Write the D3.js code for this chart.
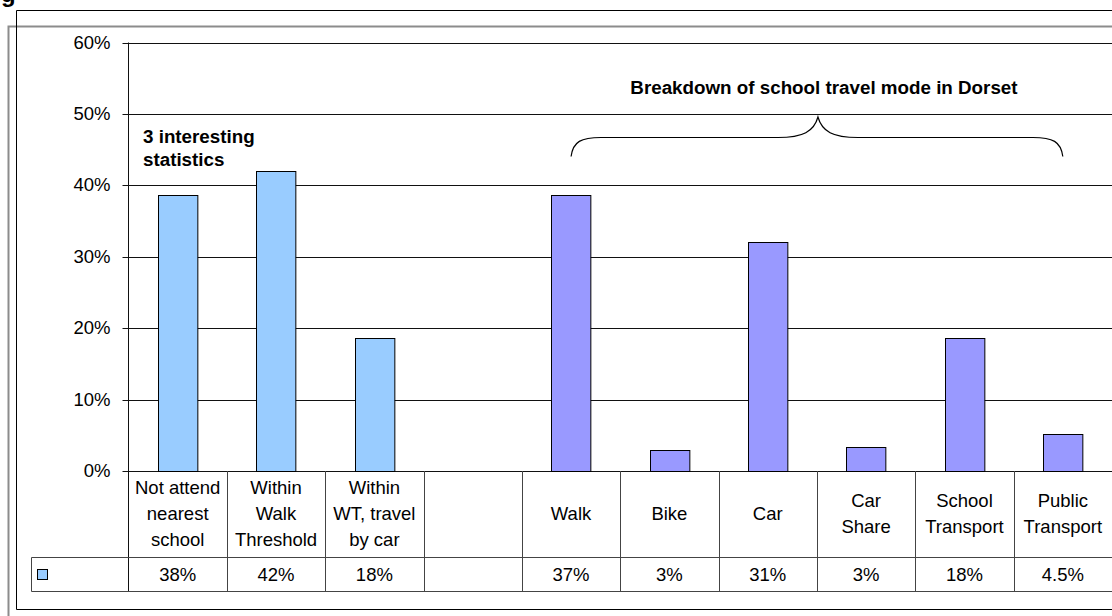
<!DOCTYPE html>
<html>
<head>
<meta charset="utf-8">
<script src="https://cdn.jsdelivr.net/npm/d3@7"></script>
<style>
  body { margin: 0; background: #fff; }
  svg { display: block; font-family: Arial, "Liberation Sans", sans-serif; }
</style>
</head>
<body>
<div id="chart"></div>
<script>
// categories as they appear in the data table (one entry per line of text)
var categories = [
    ["Not attend", "nearest", "school"],
    ["Within", "Walk", "Threshold"],
    ["Within", "WT, travel", "by car"],
    [],
    ["Walk"],
    ["Bike"],
    ["Car"],
    ["Car", "Share"],
    ["School", "Transport"],
    ["Public", "Transport"]
];
// bar heights (percent)
var values = [38.6, 42.0, 18.6, null, 38.6, 3.0, 32.0, 3.4, 18.6, 5.2];
// values printed in the data table row
var tableLabels = ["38%", "42%", "18%", "", "37%", "3%", "31%", "3%", "18%", "4.5%"];
// which group each category belongs to
var groups = ["stats", "stats", "stats", "none", "mode", "mode", "mode", "mode", "mode", "mode"];
var yTicks = [0, 10, 20, 30, 40, 50, 60];

var WIDTH = 1112,
    HEIGHT = 616,
    plot = {left: 128.5, right: 1112, top: 42.5, bottom: 471},
    tableRow1 = 557.5,
    tableBottom = 591.5,
    legendLeft = 31.5;

var colors = {stats: "#99ccff", mode: "#9999ff"};

var svg = d3.select("#chart")
    .append("svg")
        .attr("width", WIDTH)
        .attr("height", HEIGHT);

/* Cropped title fragment and outer frames */
svg.append("text")
    .attr("x", 1)
    .attr("y", 2)
    .attr("font-size", 24)
    .attr("font-weight", "bold")
    .text("g");

svg.append("path")
    .attr("d", "M8.5,616 V26.5 H1112")
    .attr("fill", "none")
    .attr("stroke", "#8c8c8c")
    .attr("stroke-width", 2);
svg.append("path")
    .attr("d", "M1112,10.5 H16.5 V609.5 H1112")
    .attr("fill", "none")
    .attr("stroke", "#000")
    .attr("stroke-width", 1);

/* Scales */
var x = d3.scaleBand()
    .domain(d3.range(categories.length))
    .range([plot.left, plot.right])
    .padding(0);
var y = d3.scaleLinear()
    .domain([0, 60])
    .range([plot.bottom, plot.top]);

var barWidth = x.bandwidth() * 0.4;

/* Gridlines */
svg.append("g")
    .attr("class", "grid")
    .selectAll("line")
    .data(yTicks)
    .enter()
    .append("line")
        .attr("x1", plot.left)
        .attr("x2", plot.right)
        .attr("y1", function(d) { return Math.round(y(d)) + 0.5; })
        .attr("y2", function(d) { return Math.round(y(d)) + 0.5; })
        .attr("stroke", "#111")
        .attr("stroke-width", 1);

/* Y axis */
var yAxis = d3.axisLeft(y)
    .tickValues(yTicks)
    .tickSize(6)
    .tickPadding(12)
    .tickFormat(function(d) { return d + "%"; });

var yAxisG = svg.append("g")
    .attr("class", "yAxis")
    .attr("transform", "translate(" + plot.left + ",0)")
    .call(yAxis);
yAxisG.select(".domain").remove();
yAxisG.selectAll(".tick line")
    .attr("stroke", "#111")
    .attr("transform", "translate(0,0.5)");
yAxisG.selectAll(".tick text")
    .attr("font-size", 18.5)
    .attr("font-family", "Arial, 'Liberation Sans', sans-serif")
    .attr("fill", "#000");
yAxisG.selectAll(".tick")
    .attr("transform", function(d) { return "translate(0," + Math.round(y(d)) + ")"; });

svg.append("line")
    .attr("x1", plot.left)
    .attr("x2", plot.left)
    .attr("y1", plot.top)
    .attr("y2", tableBottom)
    .attr("stroke", "#111");

/* Bars */
svg.append("g")
    .attr("class", "bars")
    .selectAll("rect")
    .data(values.map(function(v, i) { return {v: v, i: i}; }).filter(function(d) { return d.v !== null; }))
    .enter()
    .append("rect")
        .attr("x", function(d) { return Math.round(x(d.i) + (x.bandwidth() - barWidth) / 2) + 0.5; })
        .attr("y", function(d) { return Math.round(y(d.v)) + 0.5; })
        .attr("width", barWidth)
        .attr("height", function(d) { return Math.round(y(0)) - Math.round(y(d.v)); })
        .attr("fill", function(d) { return colors[groups[d.i]]; })
        .attr("stroke", "#000")
        .attr("stroke-width", 1);

/* Data table */
var table = svg.append("g").attr("class", "table");

table.selectAll("line.col")
    .data(d3.range(1, categories.length))
    .enter()
    .append("line")
        .attr("class", "col")
        .attr("x1", function(i) { return Math.round(x(i)) + 0.5; })
        .attr("x2", function(i) { return Math.round(x(i)) + 0.5; })
        .attr("y1", plot.bottom)
        .attr("y2", tableBottom)
        .attr("stroke", "#444");

table.append("line")
    .attr("x1", legendLeft).attr("x2", plot.right)
    .attr("y1", tableRow1).attr("y2", tableRow1)
    .attr("stroke", "#444");
table.append("line")
    .attr("x1", legendLeft).attr("x2", plot.right)
    .attr("y1", tableBottom).attr("y2", tableBottom)
    .attr("stroke", "#444");
table.append("line")
    .attr("x1", legendLeft).attr("x2", legendLeft)
    .attr("y1", tableRow1).attr("y2", tableBottom)
    .attr("stroke", "#444");

// category labels, vertically centred in the first row
var LINE_H = 26;
table.selectAll("text.cat")
    .data(categories)
    .enter()
    .append("text")
        .attr("class", "cat")
        .attr("text-anchor", "middle")
        .attr("font-size", 18.5)
        .attr("fill", "#000")
        .each(function(lines, i) {
            var cx = x(i) + x.bandwidth() / 2;
            var mid = (plot.bottom + tableRow1) / 2;
            var first = mid - (lines.length - 1) * LINE_H / 2 + 6;
            d3.select(this).selectAll("tspan")
                .data(lines)
                .enter()
                .append("tspan")
                    .attr("x", cx)
                    .attr("y", function(d, j) { return first + j * LINE_H; })
                    .text(function(d) { return d; });
        });

// value row
table.selectAll("text.val")
    .data(tableLabels)
    .enter()
    .append("text")
        .attr("class", "val")
        .attr("text-anchor", "middle")
        .attr("font-size", 18.5)
        .attr("x", function(d, i) { return x(i) + x.bandwidth() / 2; })
        .attr("y", (tableRow1 + tableBottom) / 2 + 6)
        .text(function(d) { return d; });

// legend key
table.append("rect")
    .attr("x", 37.5)
    .attr("y", 569.5)
    .attr("width", 10)
    .attr("height", 10)
    .attr("fill", colors.stats)
    .attr("stroke", "#000");

/* Annotations */
var note = svg.append("text")
    .attr("font-size", 18.8)
    .attr("font-weight", "bold")
    .attr("x", 143);
note.append("tspan").attr("x", 143).attr("y", 142.5).text("3 interesting");
note.append("tspan").attr("x", 143).attr("y", 165.5).text("statistics");

var braceL = x(4) + x.bandwidth() / 2,
    braceR = x(9) + x.bandwidth() / 2,
    braceM = (braceL + braceR) / 2 + 1;

svg.append("text")
    .attr("font-size", 18.8)
    .attr("font-weight", "bold")
    .attr("text-anchor", "middle")
    .attr("x", braceM + 6)
    .attr("y", 93.5)
    .text("Breakdown of school travel mode in Dorset");

var by0 = 156.5, by1 = 137.5, byTop = 117;
svg.append("path")
    .attr("d",
        "M" + braceL + "," + by0 +
        " C" + (braceL + 2) + "," + (by1 + 4) + " " + (braceL + 10) + "," + by1 + " " + (braceL + 30) + "," + by1 +
        " L" + (braceM - 40) + "," + by1 +
        " C" + (braceM - 15) + "," + by1 + " " + (braceM - 4) + "," + (by1 - 6) + " " + braceM + "," + byTop +
        " C" + (braceM + 4) + "," + (by1 - 6) + " " + (braceM + 15) + "," + by1 + " " + (braceM + 40) + "," + by1 +
        " L" + (braceR - 30) + "," + by1 +
        " C" + (braceR - 10) + "," + by1 + " " + (braceR - 2) + "," + (by1 + 4) + " " + braceR + "," + by0)
    .attr("fill", "none")
    .attr("stroke", "#000")
    .attr("stroke-width", 1.2);
</script>
</body>
</html>
